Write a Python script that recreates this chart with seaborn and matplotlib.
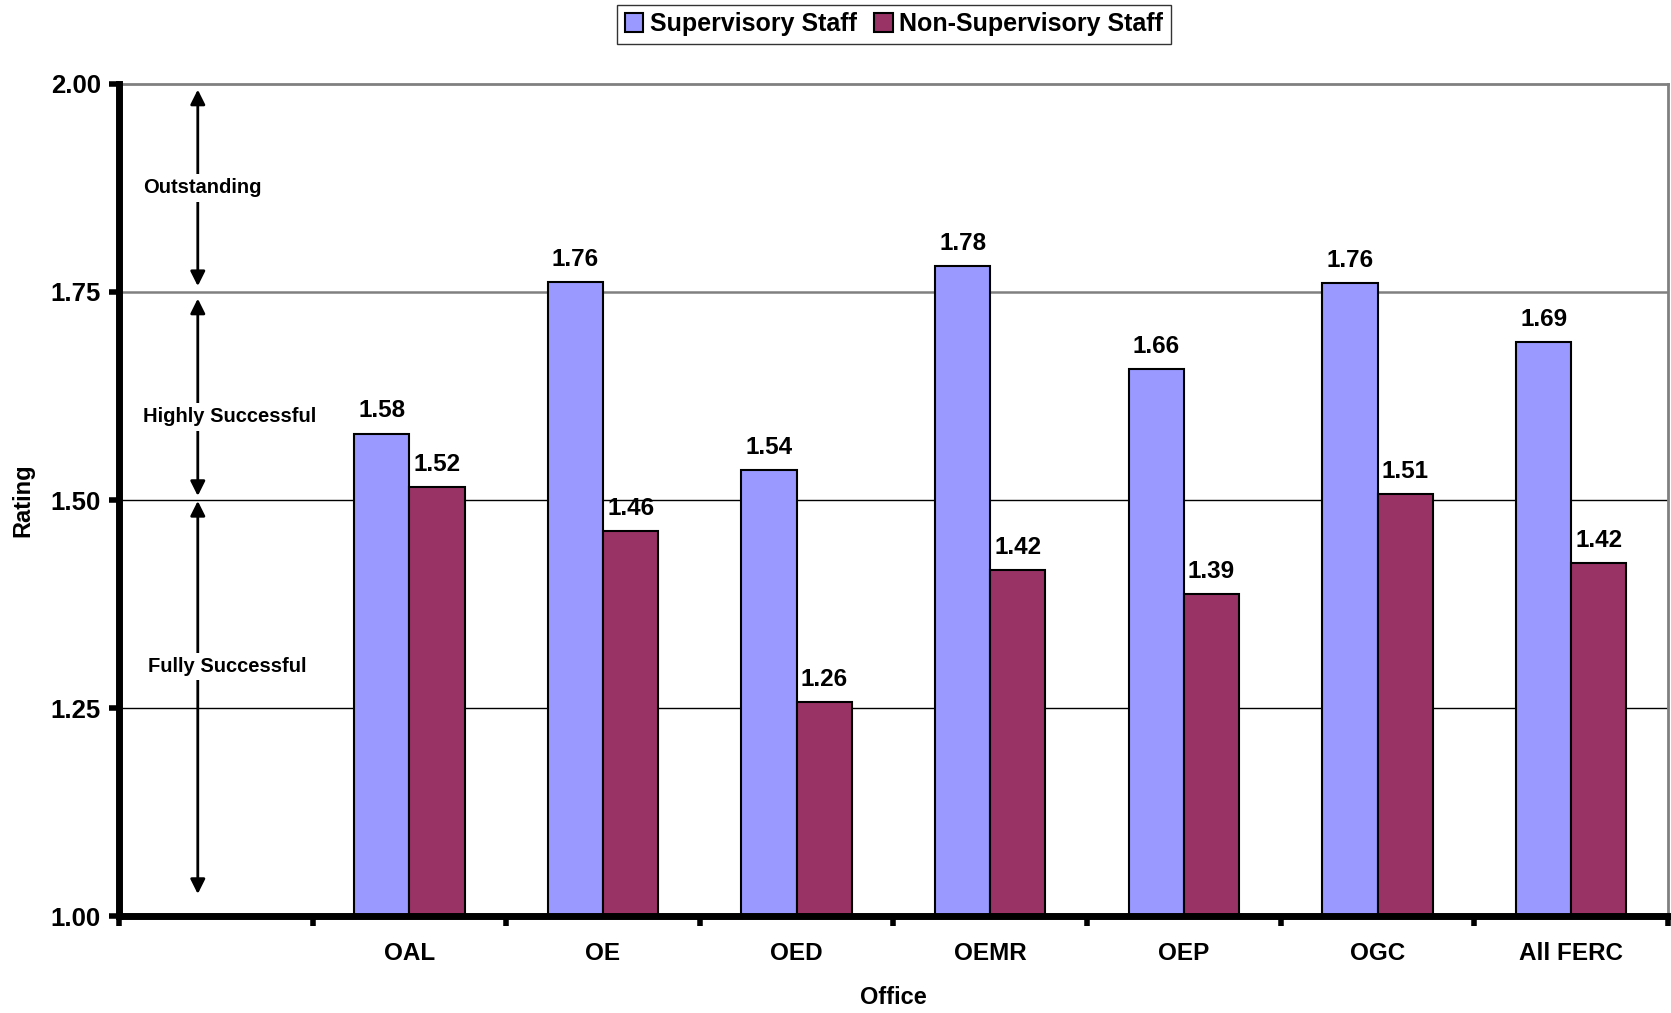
import pandas as pd
import numpy as np
import matplotlib
matplotlib.use("Agg")
import matplotlib.pyplot as plt
import seaborn as sns
from matplotlib.ticker import FixedLocator, FormatStrFormatter

sns.set_style("white")
plt.rcParams["font.family"] = ["Liberation Sans", "DejaVu Sans"]
plt.rcParams["font.weight"] = "bold"
plt.rcParams["text.color"] = "black"
plt.rcParams["axes.labelcolor"] = "black"
plt.rcParams["xtick.color"] = "black"
plt.rcParams["ytick.color"] = "black"

offices = ["OAL", "OE", "OED", "OEMR", "OEP", "OGC", "All FERC"]
supervisory = [1.580, 1.762, 1.536, 1.781, 1.657, 1.761, 1.690]
non_supervisory = [1.516, 1.463, 1.257, 1.416, 1.387, 1.507, 1.424]
groups = ["Supervisory Staff", "Non-Supervisory Staff"]
colors = ["#9999FF", "#993366"]

# rating bands drawn in the empty first slot
bands = ["Outstanding", "Highly Successful", "Fully Successful"]
band_text_x = [-0.375, -0.375, -0.35]
band_text_y = [1.875, 1.60, 1.30]
band_arrows = [(1.993, 1.757), (1.742, 1.505), (1.499, 1.027)]

df = pd.DataFrame({
    "Office": offices * 2,
    "Rating": supervisory + non_supervisory,
    "Staff": [groups[0]] * len(offices) + [groups[1]] * len(offices),
})
order = [" "] + offices

fig = plt.figure(figsize=(16.71, 10.13), dpi=100)
ax = fig.add_axes([0.0712, 0.0953, 0.927, 0.822])

sns.barplot(data=df, x="Office", y="Rating", hue="Staff", order=order,
            hue_order=groups, palette=colors, width=0.57, gap=0,
            edgecolor="black", linewidth=1.5, saturation=1, ax=ax)

for cont in ax.containers:
    ax.bar_label(cont, fmt="%.2f", padding=8, fontsize=17.5, fontweight="bold")

ax.set_ylim(1.0, 2.0)
ax.set_xlim(-0.5, len(order) - 0.5)
ax.yaxis.set_major_locator(FixedLocator([1.0, 1.25, 1.5, 1.75, 2.0]))
ax.yaxis.set_major_formatter(FormatStrFormatter("%.2f"))

# gridlines: grey near the top, black lower down (as in the original)
ax.axhline(1.75, color="#808080", linewidth=1.8, zorder=0)
ax.axhline(1.50, color="black", linewidth=1, zorder=0)
ax.axhline(1.25, color="black", linewidth=1, zorder=0)

ax.xaxis.set_minor_locator(FixedLocator(np.arange(-0.5, len(order), 1.0)))
ax.tick_params(axis="x", which="major", bottom=False, pad=15, labelsize=17.5)
ax.tick_params(axis="x", which="minor", bottom=True, length=7, width=4, direction="out")
ax.tick_params(axis="y", left=True, length=7, width=4, direction="out", labelsize=18.5, pad=6)
for lab in ax.get_xticklabels() + ax.get_yticklabels():
    lab.set_fontweight("bold")

for s in ["top", "right"]:
    ax.spines[s].set_color("#808080")
    ax.spines[s].set_linewidth(2)
for s in ["left", "bottom"]:
    ax.spines[s].set_color("black")
    ax.spines[s].set_linewidth(5)
    ax.spines[s].set_zorder(5)

ax.set_ylabel("Rating", fontsize=17, fontweight="bold", labelpad=12)
ax.set_xlabel("Office", fontsize=17, fontweight="bold", labelpad=15)

# band arrows and labels
for name, tx, ty, (y0, y1) in zip(bands, band_text_x, band_text_y, band_arrows):
    ax.annotate("", xy=(-0.093, y1), xytext=(-0.093, y0),
                arrowprops=dict(arrowstyle="<|-|>", color="black", lw=2,
                                mutation_scale=22, shrinkA=0, shrinkB=0))
    ax.text(tx, ty, name, ha="left", va="center", fontsize=14.5, fontweight="bold",
            bbox=dict(facecolor="white", edgecolor="none", pad=3))

ax.legend(loc="center", bbox_to_anchor=(0.535, 0.976), bbox_transform=fig.transFigure,
          ncol=2, frameon=True, fancybox=False, edgecolor="black",
          prop={"size": 18, "weight": "bold"}, handlelength=0.75, handleheight=0.75,
          handletextpad=0.25, columnspacing=0.7, borderpad=0.3)
ax.get_legend().get_frame().set_linewidth(1)

fig.savefig("out.png", dpi=100)
